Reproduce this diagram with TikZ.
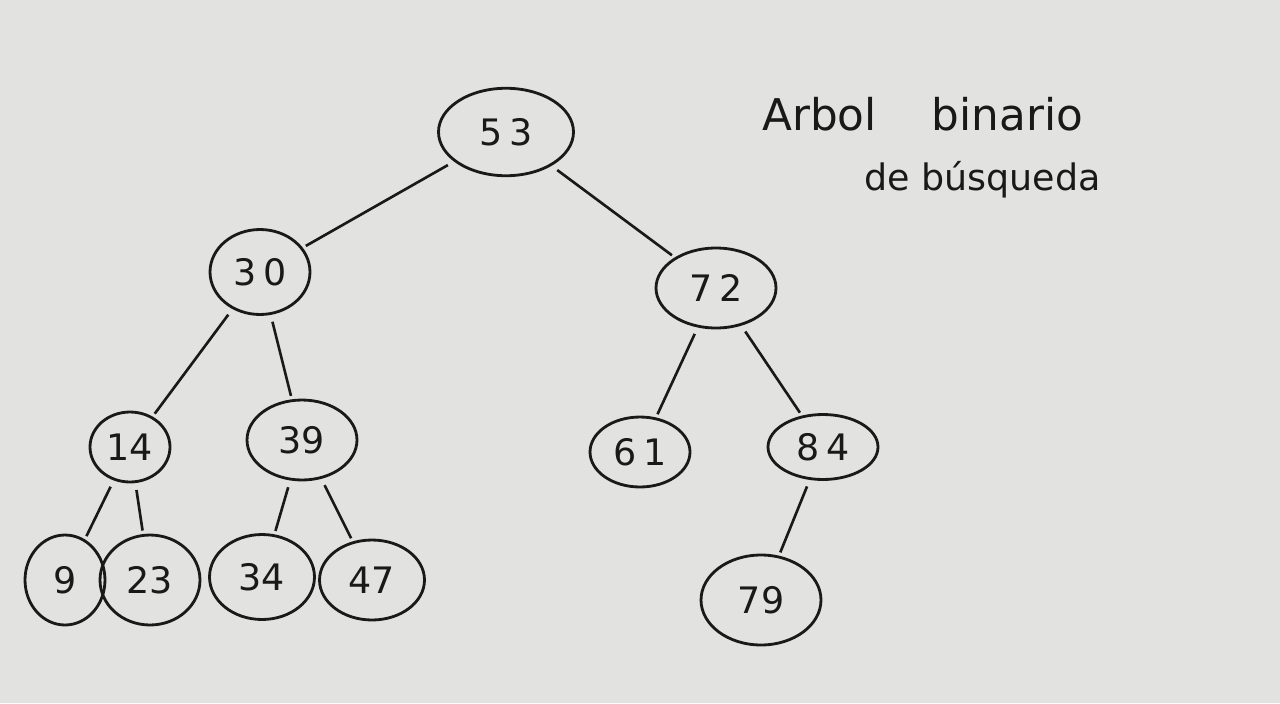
\documentclass[tikz,border=0pt]{standalone}
\usepackage{fontspec}
\setmainfont{DejaVu Sans}
\usepackage{tikz}
\usetikzlibrary{shapes.geometric,positioning}
\definecolor{paper}{RGB}{226,226,224}
\definecolor{ink}{RGB}{25,25,25}

\begin{document}
\begin{tikzpicture}[x=0.02cm, y=-0.02cm,
    keynode/.style={ellipse, draw=ink, line width=1.6pt, inner sep=0pt, font=\huge, text=ink},
    link/.style={draw=ink, line width=1.5pt, shorten <=4pt, shorten >=2pt},
]
    % Paper
    \fill[paper] (0,0) rectangle (1280,703);

    % Keys of the tree
    \node[keynode, minimum width=2.7cm, minimum height=1.75cm] (k53) at (506,132) {5\,3};
    \node[keynode, minimum width=2cm, minimum height=1.7cm] (k30) at (260,272) {3\,0};
    \node[keynode, minimum width=2.4cm, minimum height=1.6cm] (k72) at (716,288) {7\,2};
    \node[keynode, minimum width=1.6cm, minimum height=1.4cm] (k14) at (130,447) {14};
    \node[keynode, minimum width=2.2cm, minimum height=1.6cm] (k39) at (302,440) {39};
    \node[keynode, minimum width=2cm, minimum height=1.4cm] (k61) at (640,452) {6\,1};
    \node[keynode, minimum width=2.2cm, minimum height=1.3cm] (k84) at (823,447) {8\,4};
    \node[keynode, minimum width=1.6cm, minimum height=1.8cm] (k9) at (65,580) {9};
    \node[keynode, minimum width=2cm, minimum height=1.8cm] (k23) at (150,580) {23};
    \node[keynode, minimum width=2.1cm, minimum height=1.7cm] (k34) at (262,577) {34};
    \node[keynode, minimum width=2.1cm, minimum height=1.6cm] (k47) at (372,580) {47};
    \node[keynode, minimum width=2.4cm, minimum height=1.8cm] (k79) at (761,600) {79};

    % Links
    \foreach \a/\b in {k53/k30, k53/k72, k30/k14, k30/k39, k72/k61, k72/k84,
                       k14/k9, k14/k23, k39/k34, k39/k47, k84/k79} {
        \draw[link] (\a) -- (\b);
    }

    % Title
    \node[font=\Huge, text=ink, anchor=west] (title1) at (756,114) {Arbol\hspace{1.1cm}binario};
    \node[font=\huge, text=ink, anchor=west] (title2) at (858,180) {de búsqueda};
\end{tikzpicture}
\end{document}
